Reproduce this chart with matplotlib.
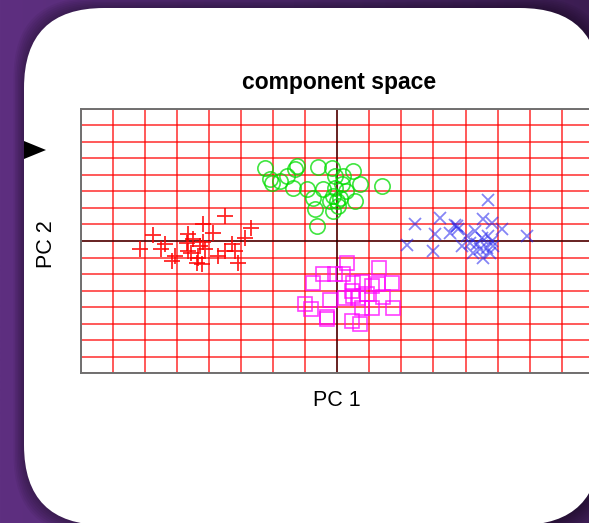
import numpy as np
import matplotlib
matplotlib.use("Agg")
import matplotlib.pyplot as plt
from matplotlib.patches import FancyBboxPatch, Polygon
from matplotlib.colors import LinearSegmentedColormap

# PC scores (grid unit = 1)
red_x = [-3.50, -4.18, -2.69, -5.74, -4.65, -3.87, -2.88, -6.15, -5.50, -4.70, -4.49, -4.28, -4.12,
         -4.65, -3.29, -3.50, -3.71, -3.19, -5.17, -4.39, -4.23, -3.09, -4.34, -5.06, -5.37, -4.55, -4.20]
red_y = [1.51, 1.01, 0.80, 0.34, 0.41, 0.47, 0.20, -0.47, -0.50, -0.10, 0.14, -0.30, -0.50,
         -0.60, -0.20, -0.60, -0.91, -0.60, -1.21, -1.31, -1.41, -1.31, -1.01, -0.91, -0.20, -0.75, -0.05]

green_x = [-2.26, -2.05, -1.58, -1.27, -1.32, -0.59, -0.17, 0.50, 0.19, -0.07, 0.71, 1.38, -1.37, -0.95,
           -0.44, -0.07, 0.14, -0.75, -0.12, -0.02, 0.08, 0.55, -0.23, -0.70, -0.12, -0.64, -1.79, -2.10,
           0.02, 0.27]
green_y = [4.40, 3.52, 3.93, 4.53, 4.35, 4.47, 4.43, 4.23, 3.93, 3.93, 3.43, 3.33, 3.22, 3.13,
           3.13, 3.22, 3.43, 2.62, 2.72, 2.42, 2.62, 2.42, 2.42, 1.92, 1.81, 0.91, 3.63, 3.73,
           2.10, 3.00]

blue_x = [4.71, 2.42, 3.20, 3.72, 3.77, 3.67, 3.52, 3.05, 2.16, 2.99, 3.88, 4.30, 4.55, 4.82, 5.13,
          4.50, 4.71, 4.82, 4.35, 4.45, 4.66, 4.24, 4.76, 4.55, 4.87, 5.91, 4.04, 4.14]
blue_y = [2.48, 1.01, 1.41, 0.91, 0.74, 0.97, 0.47, 0.41, -0.26, -0.60, -0.30, 0.60, 1.31, 1.11, 0.71,
          0.20, 0.30, 0.00, -0.20, -0.50, -0.41, -0.71, -0.71, -1.01, -0.30, 0.30, 0.30, -0.10]

magenta_x = [0.31, 1.31, -0.44, -0.07, 0.19, -0.77, 0.50, 0.76, 1.07, 1.28, 1.70, 0.50, 0.66, 0.24,
             -0.23, 0.92, 1.43, -1.01, -0.83, 0.76, 1.07, 1.73, -0.31, -0.33, 0.45, 0.71, 0.45]
magenta_y = [-1.31, -1.61, -2.01, -1.98, -1.98, -2.56, -2.52, -2.46, -2.72, -2.62, -2.56, -3.33, -3.43, -3.43,
             -3.59, -3.19, -3.39, -3.79, -4.13, -4.03, -4.03, -4.03, -4.58, -4.73, -4.84, -5.00, -3.02]

W, H = 589, 523
fig = plt.figure(figsize=(W / 100, H / 100), dpi=100)

# purple backdrop + white rounded card
bg = fig.add_axes([0, 0, 1, 1])
bg.set_xlim(0, W)
bg.set_ylim(H, 0)
bg.axis("off")
cmap = LinearSegmentedColormap.from_list("bg", ["#5e2f80", "#512a72", "#3c1d52"])
bg.imshow(np.linspace(0, 1, 256).reshape(1, -1), cmap=cmap, aspect="auto",
          extent=[0, W, H, 0], zorder=0)
for i in range(8):
    bg.add_patch(FancyBboxPatch((24, 8), 576, 517, boxstyle="round,pad=%g,rounding_size=80" % (i * 1.5),
                                facecolor="black", edgecolor="none", alpha=0.05, zorder=1))
bg.add_patch(FancyBboxPatch((24, 8), 576, 517, boxstyle="round,pad=0,rounding_size=80",
                            facecolor="white", edgecolor="none", zorder=2))
bg.add_patch(Polygon([[24, 141], [24, 159], [46, 150]], closed=True, facecolor="black",
                     edgecolor="none", zorder=3))

ax = fig.add_axes([80.8 / W, 149.7 / H, 513 / W, 264.6 / H])
ax.set_facecolor("none")
ax.set_xlim(-8, 8)
ax.set_ylim(-8, 8)
ax.set_xticks(range(-8, 9))
ax.set_yticks(range(-8, 9))
ax.tick_params(length=0, labelbottom=False, labelleft=False)
ax.grid(color="red", alpha=0.65, linewidth=1.4)
ax.set_axisbelow(True)
for s in ax.spines.values():
    s.set_color("#707070")
    s.set_linewidth(1.4)
ax.axhline(0, color="black", alpha=0.6, linewidth=1.4, zorder=1)
ax.axvline(0, color="black", alpha=0.6, linewidth=1.4, zorder=1)

ax.plot(red_x, red_y, "+", color="red", ms=11, mew=1.3, alpha=0.85, zorder=3)
ax.plot(green_x, green_y, "o", color="#00dd00", mfc="none", ms=11, mew=1.2, alpha=0.75, zorder=3)
ax.plot(blue_x, blue_y, "x", color="#2222ee", ms=8, mew=1.3, alpha=0.55, zorder=3)
ax.plot(magenta_x, magenta_y, "s", color="#ff00ff", mfc="none", ms=9.5, mew=1.2, alpha=0.75, zorder=3)

font = ["Liberation Sans", "DejaVu Sans"]
fig.text(339 / W, 1 - 83 / H, "component space", ha="center", va="center",
         fontsize=16.5, fontweight="bold", family=font)
fig.text(337 / W, 1 - 401 / H, "PC 1", ha="center", va="center", fontsize=15.5, family=font)
fig.text(47 / W, 1 - 244 / H, "PC 2", ha="center", va="center", rotation=90,
         fontsize=15.5, family=font)

fig.savefig("out.png", dpi=100)
